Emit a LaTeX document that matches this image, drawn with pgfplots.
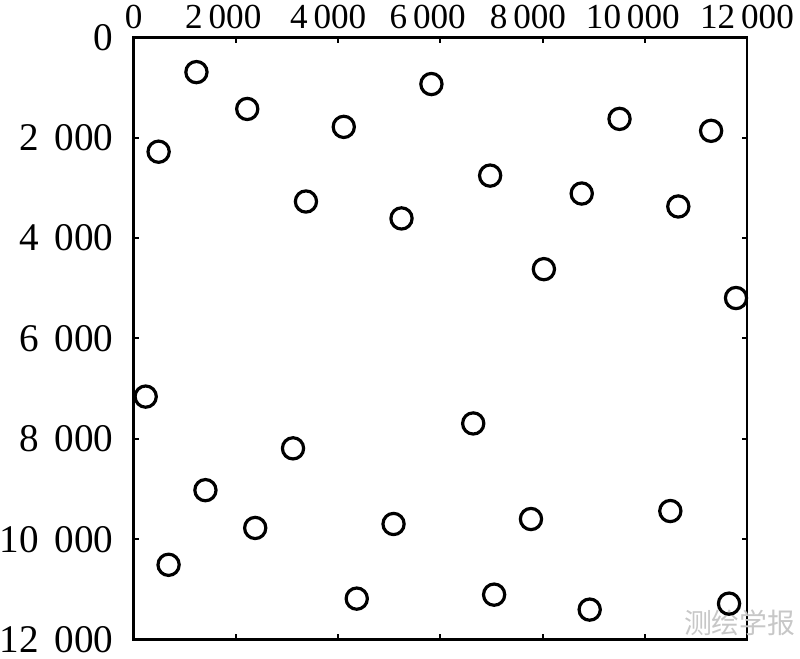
\documentclass[border=0pt]{standalone}
\usepackage{pgfplots}
\pgfplotsset{compat=1.18}
\usepackage{fontspec}
\setmainfont{Liberation Serif}
\newfontfamily\cjk{Noto Sans CJK SC}
\begin{document}
\begin{tikzpicture}
\begin{axis}[
  scale only axis,
  width=462pt, height=453.75pt,
  xmin=0, xmax=12000, ymin=0, ymax=12000,
  y dir=reverse,
  scaled ticks=false,
  xtick={0,2000,...,12000},
  ytick={0,2000,...,12000},
  xticklabels={0,2\,000\kern19pt,4\,000\kern15pt,6\,000\kern19pt,8\,000\kern22pt,10\,000\kern18pt,12\,000},
  yticklabels={0,2\hspace{0.4em}000,4\hspace{0.4em}000,6\hspace{0.4em}000,8\hspace{0.4em}000,10\hspace{0.4em}000,12\hspace{0.4em}000},
  xticklabel pos=upper,
  tick align=inside,
  tick pos=both,
  major tick length=4pt,
  axis line style={line width=2.2pt},
  every tick/.style={line width=1.5pt, black},
  xticklabel style={font=\fontsize{26.5}{30}\selectfont, inner xsep=0pt, inner ysep=3.5pt, anchor=south, yshift=3pt},
  yticklabel style={font=\fontsize{29.5}{32}\selectfont, inner xsep=0pt, inner ysep=1.5pt, anchor=east, xshift=-15pt},
  clip=false,
]
\node[font=\cjk\fontsize{21}{24}\selectfont, text=black!22, anchor=center] at (axis cs:11860,11660) {测绘学报};
\addplot[only marks, mark=o, mark size=8pt, line width=2.4pt, black] coordinates {
(1227,694) (487,2280) (2221,1428) (4110,1785) (5825,932)
(3370,3272) (5240,3609) (6974,2756) (8766,3113) (9506,1626)
(11298,1864) (10656,3371) (8026,4620) (11785,5195)
(234,7159) (6643,7694) (3117,8190) (1403,9023) (2377,9776)
(682,10510) (5084,9697) (7773,9598) (10500,9439)
(4364,11184) (7052,11105) (8922,11403) (11649,11284)
};
\end{axis}
\path (current bounding box.south) ++(0,-2.5pt);
\end{tikzpicture}
\end{document}
